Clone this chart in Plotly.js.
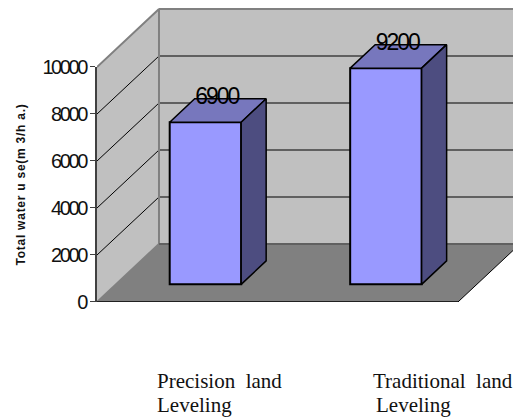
<!DOCTYPE html>
<html>
<head>
<meta charset="utf-8">
<script src="https://cdn.plot.ly/plotly-3.0.1.min.js"></script>
<style>
html,body{margin:0;padding:0;background:#fff;overflow:hidden}
/* The axis numerals and value labels are set tight */
.ytick text{letter-spacing:-2.4px}
.valuelabels text{letter-spacing:-2px}
.g-ytitle text{letter-spacing:0.75px}
</style>
</head>
<body>
<div id="chart" style="width:513px;height:417px"></div>
<script>
// Water use per hectare for two land levelling methods
const categories = ["Precision land Leveling", "Traditional land Leveling"];
const waterUse = [6900, 9200];
const yTicks = [0, 2000, 4000, 6000, 8000, 10000];
const labelLines = [["Precision\u00A0\u00A0land", "Leveling"], ["Traditional\u00A0\u00A0land", "Leveling"]];
const labelLineX = [[0.321, 0.321], [1.518, 1.535]];
const labelLineY = [0.687, 0.896];

// Oblique projection used for the box: one unit of depth in each axis
const wallDX = 0.3435, wallDY = 2468;
const barInsetX = 0.1008, barInsetY = 750;
const barDX = 0.1385, barDY = 1000;
const barWidth = 0.396;
const floorW = 2, xMax = 2.305, yMax = 10000, boxTop = 12851;

const poly = (xs, ys, fill, lineColor, lineWidth, front) => ({
  type: "scatter", mode: lineColor ? "lines" : "none",
  x: xs.concat(xs[0]), y: ys.concat(ys[0]),
  fill: "toself", fillcolor: fill,
  line: {color: lineColor || fill, width: lineWidth || 0},
  xaxis: front ? "x2" : "x", yaxis: front ? "y3" : "y2",
  hoverinfo: "skip", showlegend: false
});
const seg = (xs, ys, color, width) => ({
  type: "scatter", mode: "lines", x: xs, y: ys,
  line: {color: color, width: width}, xaxis: "x", yaxis: "y2",
  hoverinfo: "skip", showlegend: false
});

// Carries the value axis, which spans only 0 to 10000 of the plot height
const traces = [{
  type: "scatter", mode: "none", x: [0.5, 1.5], y: waterUse,
  xaxis: "x", yaxis: "y", hoverinfo: "skip", showlegend: false
}];

// Floor and the two walls
traces.push(poly([0, floorW, floorW + wallDX, wallDX], [0, 0, wallDY, wallDY], "#808080"));
traces.push(poly([0, wallDX, wallDX, 0], [0, wallDY, yMax + wallDY, yMax], "#c0c0c0"));
traces.push(poly([wallDX, floorW + wallDX, floorW + wallDX, wallDX], [wallDY, wallDY, yMax + wallDY, yMax + wallDY], "#c0c0c0"));

// Gridlines across side wall and back wall
yTicks.filter(v => v > 0 && v < yMax).forEach(v => {
  traces.push(seg([0, wallDX], [v, v + wallDY], "#000000", 1));
  traces.push(seg([wallDX, floorW + wallDX], [v + wallDY, v + wallDY], "#606060", 2));
});
traces.push(seg([0, wallDX, wallDX], [yMax, yMax + wallDY, wallDY], "#808080", 2));
traces.push(seg([wallDX, floorW + wallDX], [yMax + wallDY, yMax + wallDY], "#808080", 2));
traces.push(seg([0, wallDX], [0, wallDY], "#808080", 2));
traces.push(seg([wallDX, floorW + wallDX], [wallDY, wallDY], "#606060", 2));
traces.push(seg([0, floorW], [0, 0], "#000000", 1.5));
traces.push(seg([floorW, floorW + wallDX], [0, wallDY], "#000000", 1));

// Bars: front face from the values, then the top and side faces
const barCentres = categories.map((c, i) => i + 0.5 + barInsetX);
traces.push({
  type: "bar", x: barCentres, y: waterUse, base: barInsetY, width: barWidth,
  marker: {color: "#9999ff", line: {color: "#000000", width: 2}},
  xaxis: "x2", yaxis: "y3", hoverinfo: "skip", showlegend: false
});
waterUse.forEach((v, i) => {
  const l = barCentres[i] - barWidth / 2, r = barCentres[i] + barWidth / 2;
  const top = barInsetY + v, bot = barInsetY;
  traces.push(poly([l, r, r + barDX, l + barDX], [top, top, top + barDY, top + barDY], "#7777bd", "#000000", 1.5, true));
  traces.push(poly([r, r + barDX, r + barDX, r], [bot, bot + barDY, top + barDY, top], "#4d4d80", "#000000", 1.5, true));
});

// Value labels sit on the back edge of each bar's top face
traces.push({
  type: "scatter", mode: "text",
  x: barCentres.map(c => c + barDX / 2 - 0.006),
  y: waterUse.map(v => barInsetY + v + barDY),
  text: waterUse.map(String), textposition: "middle center",
  textfont: {family: "'Liberation Sans',Arial", size: 23, color: "#000000"},
  xaxis: "x2", yaxis: "y3", hoverinfo: "skip", showlegend: false
});

const annotations = [];
labelLines.forEach((lines, i) => lines.forEach((t, j) => annotations.push({
  text: t, xref: "x", yref: "paper", x: labelLineX[i][j], y: -(115 * labelLineY[j]) / 302,
  xanchor: "left", yanchor: "middle", showarrow: false,
  font: {family: "'Liberation Serif','Times New Roman',serif", size: 21, color: "#111111"}
})));

const layout = {
  width: 513, height: 417,
  margin: {l: 97, r: 0, t: 0, b: 115},
  paper_bgcolor: "#ffffff", plot_bgcolor: "rgba(0,0,0,0)",
  showlegend: false, barmode: "overlay",
  xaxis: {range: [0, xMax], visible: false, fixedrange: true},
  yaxis: {
    domain: [0, yMax / boxTop], range: [0, yMax], tickvals: yTicks, ticktext: yTicks.map(String),
    anchor: "x", showgrid: false, zeroline: false, showline: true, linecolor: "#404040", linewidth: 2,
    ticks: "outside", ticklen: 5, tickcolor: "#404040", tickwidth: 1,
    tickfont: {family: "'Liberation Sans',Arial", size: 20, color: "#111111"},
    title: {text: "Total water u se(m 3/h a.)", standoff: 14,
            font: {family: "'Liberation Sans',Arial", size: 12, color: "#111111", weight: "bold"}},
    fixedrange: true
  },
  yaxis2: {domain: [0, 1], range: [0, boxTop], anchor: "x", visible: false, fixedrange: true},
  xaxis2: {range: [0, xMax], overlaying: "x", anchor: "y3", visible: false, fixedrange: true},
  yaxis3: {range: [0, boxTop], overlaying: "y2", anchor: "x2", visible: false, fixedrange: true},
  annotations: annotations
};

Plotly.newPlot("chart", traces, layout, {displayModeBar: false, staticPlot: true}).then(gd => {
  // Tag the value labels so the stylesheet can tighten them
  const labels = gd.querySelectorAll(".scatterlayer .trace:last-child .textpoint");
  labels.forEach(n => n.parentNode.classList.add("valuelabels"));
});
</script>
</body>
</html>
